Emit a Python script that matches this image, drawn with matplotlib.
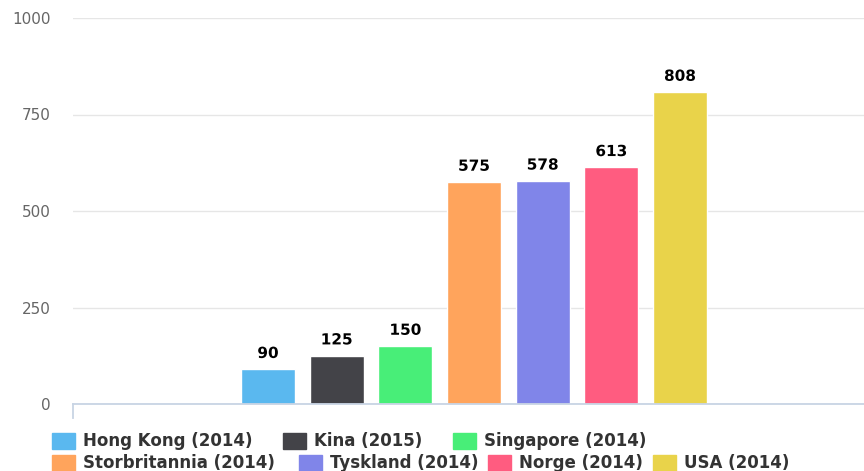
import matplotlib
matplotlib.use("Agg")
from matplotlib import pyplot as plt
from matplotlib import patheffects as pe
from matplotlib.patches import Rectangle

countries = ["Hong Kong (2014)", "Kina (2015)", "Singapore (2014)", "Storbritannia (2014)",
             "Tyskland (2014)", "Norge (2014)", "USA (2014)"]
values = [90, 125, 150, 575, 578, 613, 808]
colors = ["#5ab8ef", "#434348", "#48ee78", "#ffa45c", "#8085e9", "#ff5c80", "#e9d34a"]
yticks = [0, 250, 500, 750, 1000]

W, H = 864, 471
fig = plt.figure(figsize=(W / 100, H / 100), dpi=100)
# plot area in pixels: x 73..864, y 18..404
ax = fig.add_axes([73 / W, (H - 404) / H, (W - 73) / W, (404 - 18) / H])

xs = list(range(len(values)))
ax.bar(xs, values, width=0.786, color=colors, edgecolor="white", linewidth=1, zorder=3)
for x, v in zip(xs, values):
    ax.annotate(str(v), (x, v), xytext=(0, 6), textcoords="offset points",
                ha="center", va="bottom", fontsize=11, fontweight="bold", color="black",
                path_effects=[pe.withStroke(linewidth=3, foreground="white")], zorder=4)

ax.set_xlim(-2.84, 8.68)
ax.set_ylim(0, 1000)
ax.set_yticks(yticks)
ax.set_yticklabels([str(t) for t in yticks], fontsize=11, color="#666666")
ax.tick_params(axis="y", length=0, pad=16)
ax.set_xticks([])
ax.grid(axis="y", color="#e6e6e6", linewidth=1, zorder=0)
for s in ["top", "right", "left"]:
    ax.spines[s].set_visible(False)
ax.spines["bottom"].set_color("#c8d4e4")
ax.spines["bottom"].set_linewidth(1.3)
ax.spines["bottom"].set_zorder(5)
# small tick at the left end of the x axis
fig.add_artist(plt.Line2D([73 / W, 73 / W], [(H - 404) / H, (H - 418) / H],
                          color="#c8d4e4", linewidth=1.3))

# legend, two rows laid out like the original
leg_pos = [(52, 441), (283, 441), (453, 441), (52, 463), (299, 463), (488, 463), (653, 463)]
for (px, py), lab, c in zip(leg_pos, countries, colors):
    fig.add_artist(Rectangle((px / W, (H - py - 8) / H), 23 / W, 16 / H,
                             transform=fig.transFigure, color=c))
    fig.text((px + 31) / W, (H - py) / H, lab, fontsize=12, fontweight="bold",
             color="#333333", va="center", ha="left")

fig.savefig("out.png", dpi=100)
